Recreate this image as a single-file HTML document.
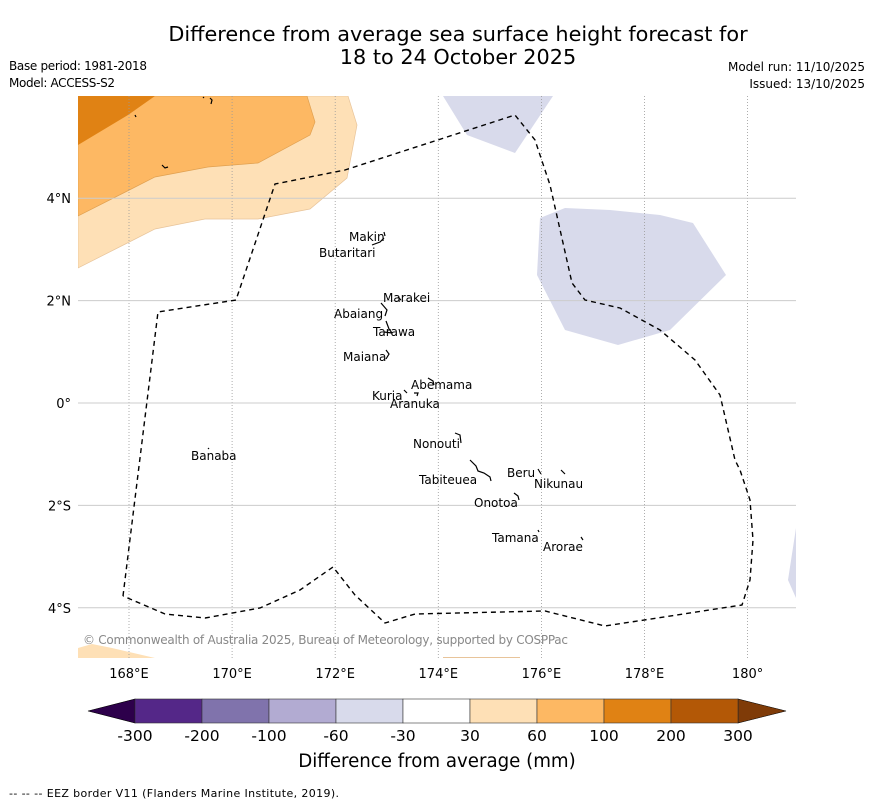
<!DOCTYPE html>
<html><head><meta charset="utf-8"><style>
body{margin:0;background:#fff;width:873px;height:804px;overflow:hidden;font-family:"DejaVu Sans","Liberation Sans",sans-serif}
svg{position:absolute;left:0;top:0}
</style></head><body>
<svg width="873" height="804" font-family="DejaVu Sans, Liberation Sans, sans-serif">
<text x="458" y="41" font-size="20.8" text-anchor="middle">Difference from average sea surface height forecast for</text>
<text x="458" y="64" font-size="20.8" text-anchor="middle">18 to 24 October 2025</text>
<text x="9" y="70" font-size="12" textLength="138">Base period: 1981-2018</text>
<text x="9" y="87" font-size="12" textLength="106">Model: ACCESS-S2</text>
<text x="865" y="71" font-size="12" text-anchor="end">Model run: 11/10/2025</text>
<text x="865" y="88" font-size="12" text-anchor="end">Issued: 13/10/2025</text>
<defs><clipPath id="mc"><rect x="78" y="96" width="718" height="562"/></clipPath></defs>
<g id="map" clip-path="url(#mc)">
<polygon fill="#fee0b6" stroke="#e8c49a" stroke-width="0.7" points="78,96 348,96 357,125 347,178 310,209 258,219 205,219 155,229 78,268"/>
<polygon fill="#fdb863" stroke="#e0a050" stroke-width="0.7" points="78,96 307,96 315,122 310,135 258,163 208,167 155,177 78,216"/>
<polygon fill="#e08214" points="78,96 155,96 128,115 78,145"/>
<polygon fill="#fee0b6" points="78,648 92,644 112,648 155,658 78,658"/>
<line x1="443" y1="657.5" x2="520" y2="657.5" stroke="#e8c49a" stroke-width="1"/>
<polygon fill="#d8daeb" points="443,96 553,96 515,153 467,135"/>
<polygon fill="#d8daeb" points="540,218 565,208 610,210 660,215 693,223 726,275 670,330 618,345 565,330 537,275"/>
<polygon fill="#d8daeb" points="796,528 788,580 796,598"/>
<g id="grid"></g>
<polyline fill="none" stroke="#000" stroke-width="1.4" stroke-dasharray="5,4" points="123,596 158,312 236,300 275,184 345,170 515,115 535,140 550,185 572,283 585,300 620,308 660,330 695,360 720,395 735,460 740,470 750,500 753,540 750,580 742,605 605,626 545,611 415,614 385,623 355,595 333,567 300,590 260,608 205,618 165,614 123,596"/>
<g id="islands" stroke="#000" stroke-width="1.2" fill="none">
<path d="M384,232 l1,4 M372,245 l8,-3 l4,-4"/>
<path d="M381,303 l6,7 l-2,6 M386,321 l3,8 l3,4 M384,332 l8,1 M398,297 l3,3"/>
<path d="M386,350 l3,4 l-3,5"/>
<path d="M428,378 l5,3 l1,4 M404,390 l3,3 M414,393 l4,0 l-1,3"/>
<path d="M455,433 l5,2 l1,8"/>
<path d="M470,460 l6,6 l2,5 l6,2 l6,4 l1,4"/>
<path d="M538,469 l3,5 M561,470 l4,4 M514,493 l4,3 l1,4 M538,530 l1,2 M581,537 l2,3"/>
<path d="M208,448 l1,1 M135,115 l1,2 M162,165 l3,3 l3,-1 M210,98 l2,2 l-1,4 M203,97 l1,1"/>
</g>
<g font-size="12" fill="#000">
<text x="349" y="241">Makin</text><text x="319" y="257">Butaritari</text>
<text x="383" y="302">Marakei</text><text x="334" y="318">Abaiang</text>
<text x="373" y="336">Tarawa</text><text x="343" y="361">Maiana</text>
<text x="411" y="389">Abemama</text><text x="372" y="400">Kuria</text>
<text x="390" y="408">Aranuka</text><text x="413" y="448">Nonouti</text>
<text x="419" y="484">Tabiteuea</text><text x="507" y="477">Beru</text>
<text x="534" y="488">Nikunau</text><text x="474" y="507">Onotoa</text>
<text x="492" y="542">Tamana</text><text x="543" y="551">Arorae</text>
<text x="191" y="460">Banaba</text>
</g>
<text x="83" y="644" font-size="12" fill="#888" textLength="485">© Commonwealth of Australia 2025, Bureau of Meteorology, supported by COSPPac</text>
</g>
<g id="axes"></g>
<g id="cbar"></g>
<text x="437" y="767" font-size="18.2" text-anchor="middle">Difference from average (mm)</text>
<text x="9" y="797" font-size="11" textLength="330">--  --  -- EEZ border V11 (Flanders Marine Institute, 2019).</text>
</svg>
<script>
const lonTicks=[168,170,172,174,176,178,180];
const lonLabels=["168°E","170°E","172°E","174°E","176°E","178°E","180°"];
const latTicks=[4,2,0,-2,-4];
const latLabels=["4°N","2°N","0°","2°S","4°S"];
const levels=["-300","-200","-100","-60","-30","30","60","100","200","300"];
const levelColors=["#542788","#8073ac","#b2abd2","#d8daeb","#ffffff","#fee0b6","#fdb863","#e08214","#b35806"];
const NS="http://www.w3.org/2000/svg";
function xLon(l){return 129+(l-168)*51.55;}
function yLat(l){return 403-l*51.2;}
function mk(t,a,p){const e=document.createElementNS(NS,t);for(const k in a)e.setAttribute(k,a[k]);p.appendChild(e);return e;}
const grid=document.getElementById('grid'),axes=document.getElementById('axes'),cb=document.getElementById('cbar');
lonTicks.forEach((v,i)=>{const x=xLon(v);
 const g=mk('line',{x1:x,x2:x,y1:96,y2:658,stroke:'#999','stroke-width':0.8,'stroke-dasharray':'1,2'},grid);
 
 
 const t=mk('text',{x:x,y:678,'font-size':13,'text-anchor':'middle'},axes);t.textContent=lonLabels[i];
 
 });
latTicks.forEach((v,i)=>{const y=yLat(v);
 const g=mk('line',{x1:78,x2:796,y1:y,y2:y,stroke:'#ccc','stroke-width':1},grid);
 
 
 const t=mk('text',{x:71,y:y+5,'font-size':13,'text-anchor':'end'},axes);t.textContent=latLabels[i];
 
 });
const x0=135,x1=738,y0=699,h=24,w=(x1-x0)/levelColors.length;
const l=mk('polygon',{points:`${x0},${y0} ${x0},${y0+h} 88,${y0+h/2}`,fill:'#2d004b',stroke:'#000','stroke-width':0.6},cb);


const r=mk('polygon',{points:`${x1},${y0} ${x1},${y0+h} 786,${y0+h/2}`,fill:'#7f3b08',stroke:'#000','stroke-width':0.6},cb);


levelColors.forEach((c,i)=>{const s=mk('rect',{x:x0+i*w,y:y0,width:w,height:h,fill:c,stroke:'#333','stroke-width':0.6},cb);
 
 });
levels.forEach((v,i)=>{const t=mk('text',{x:x0+i*w,y:741,'font-size':15.5,'text-anchor':'middle'},cb);t.textContent=v;
 
 });
</script>
</body></html>
